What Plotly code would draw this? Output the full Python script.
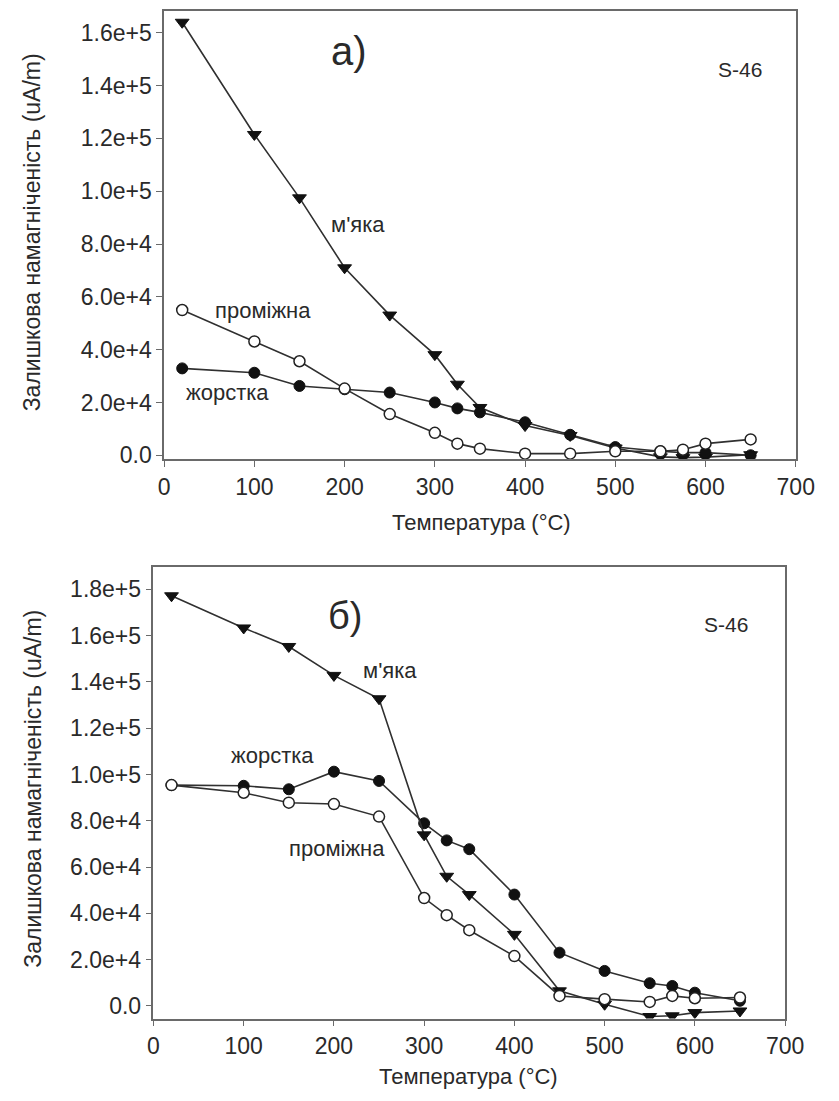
import plotly.graph_objects as go

# ---------------- data ----------------
temps = [20, 100, 150, 200, 250, 300, 325, 350, 400, 450, 500, 550, 575, 600, 650]

# panel a)
a_soft = [164000, 121500, 97500, 71000, 53100, 38100, 26900, 18100, 11250, 7500, 2750, -600, -900, -700, 200]
a_inter = [55000, 43100, 35600, 25250, 15600, 8500, 4400, 2500, 600, 600, 1500, 1500, 2100, 4400, 6000]
a_hard = [32900, 31250, 26250, 25000, 23750, 20000, 17750, 16250, 12500, 7750, 3100, 1500, 1000, 1000, 0]

# panel б)
b_soft = [177200, 163300, 155300, 142800, 132700, 73900, 56000, 48100, 30900, 6500, 700, -4600, -4300, -2900, -2200]
b_hard = [95400, 95100, 93600, 101200, 97200, 78900, 71500, 67700, 48100, 23000, 15100, 9800, 8600, 5700, 2200]
b_inter = [95400, 92100, 87800, 87200, 81800, 46600, 39200, 32700, 21500, 4300, 2900, 1700, 4300, 3300, 3600]

x_ticks = [0, 100, 200, 300, 400, 500, 600, 700]
a_yticks = [0, 20000, 40000, 60000, 80000, 100000, 120000, 140000, 160000]
a_ytext = ["0.0", "2.0e+4", "4.0e+4", "6.0e+4", "8.0e+4", "1.0e+5", "1.2e+5", "1.4e+5", "1.6e+5"]
b_yticks = [0, 20000, 40000, 60000, 80000, 100000, 120000, 140000, 160000, 180000]
b_ytext = ["0.0", "2.0e+4", "4.0e+4", "6.0e+4", "8.0e+4", "1.0e+5", "1.2e+5", "1.4e+5", "1.6e+5", "1.8e+5"]

y_title = "Залишкова намагніченість (uA/m)"
x_title = "Температура (°C)"

# ---------------- figure ----------------
W, H = 839, 1101
FONT = "Liberation Sans, Arial, sans-serif"
TXT = "#2a2a2a"
LINE = "#303030"
FRAME = "#6a6a6a"

fig = go.Figure()


def add_series(y, kind, xa, ya):
    if kind == "soft":
        marker = dict(symbol="triangle-down", size=12, color="#111111",
                      line=dict(color="#111111", width=1))
    elif kind == "hard":
        marker = dict(symbol="circle", size=11, color="#111111",
                      line=dict(color="#111111", width=1))
    else:
        marker = dict(symbol="circle", size=11, color="white",
                      line=dict(color="#222222", width=1.5))
    fig.add_trace(go.Scatter(x=temps, y=y, mode="lines+markers",
                             line=dict(color=LINE, width=1.6),
                             marker=marker, xaxis=xa, yaxis=ya,
                             showlegend=False, hoverinfo="skip"))


add_series(a_soft, "soft", "x", "y")
add_series(a_hard, "hard", "x", "y")
add_series(a_inter, "inter", "x", "y")
add_series(b_hard, "hard", "x2", "y2")
add_series(b_soft, "soft", "x2", "y2")
add_series(b_inter, "inter", "x2", "y2")

# panel geometry (pixels -> paper)
a_x0, a_x1, a_top, a_bot = 163, 814, 11, 463
b_x0, b_x1, b_top, b_bot = 152, 803, 572, 1027

axis_common = dict(showgrid=False, zeroline=False, showline=True, linecolor=FRAME,
                   linewidth=1.5, mirror=True, ticks="outside", ticklen=6,
                   tickcolor=FRAME, tickwidth=1.2,
                   tickfont=dict(family=FONT, size=23, color=TXT))

fig.update_layout(
    width=W, height=H,
    margin=dict(l=0, r=0, t=0, b=0),
    paper_bgcolor="white", plot_bgcolor="white",
    xaxis=dict(domain=[a_x0 / W, a_x1 / W], range=[0, 700], tickvals=x_ticks,
               anchor="y", **axis_common),
    yaxis=dict(domain=[1 - a_bot / H, 1 - a_top / H], range=[-1500, 168300],
               tickvals=a_yticks, ticktext=a_ytext, anchor="x", **axis_common),
    xaxis2=dict(domain=[b_x0 / W, b_x1 / W], range=[0, 700], tickvals=x_ticks,
                anchor="y2", **axis_common),
    yaxis2=dict(domain=[1 - b_bot / H, 1 - b_top / H], range=[-5500, 189500],
                tickvals=b_yticks, ticktext=b_ytext, anchor="x2", **axis_common),
)

# in-plot labels
labels = [
    ("x", "y", 205, 153000, "а)", 40),
    ("x", "y", 638, 146000, "S-46", 21),
    ("x", "y", 215, 87500, "м'яка", 22),
    ("x", "y", 110, 55000, "проміжна", 22),
    ("x", "y", 70, 23750, "жорстка", 22),
    ("x2", "y2", 212, 168600, "б)", 38),
    ("x2", "y2", 634, 165000, "S-46", 21),
    ("x2", "y2", 262, 145000, "м'яка", 22),
    ("x2", "y2", 132, 108300, "жорстка", 22),
    ("x2", "y2", 203, 68200, "проміжна", 22),
]
for xr, yr, xv, yv, t, s in labels:
    fig.add_annotation(x=xv, y=yv, xref=xr, yref=yr, text=t, showarrow=False,
                       font=dict(family=FONT, size=s, color=TXT),
                       xanchor="center", yanchor="middle")

# axis titles
yt_font = dict(family=FONT, size=23, color=TXT)
xt_font = dict(family=FONT, size=22, color=TXT)
fig.add_annotation(x=27 / W, y=1 - 234 / H, xref="paper", yref="paper", text=y_title,
                   textangle=-90, showarrow=False, font=yt_font,
                   xanchor="center", yanchor="middle")
fig.add_annotation(x=27 / W, y=1 - 795 / H, xref="paper", yref="paper", text=y_title,
                   textangle=-90, showarrow=False, font=yt_font,
                   xanchor="center", yanchor="middle")
fig.add_annotation(x=490 / W, y=1 - 527 / H, xref="paper", yref="paper", text=x_title,
                   showarrow=False, font=xt_font, xanchor="center", yanchor="middle")
fig.add_annotation(x=477 / W, y=1 - 1085 / H, xref="paper", yref="paper", text=x_title,
                   showarrow=False, font=xt_font, xanchor="center", yanchor="middle")

fig.write_html("out.html")
